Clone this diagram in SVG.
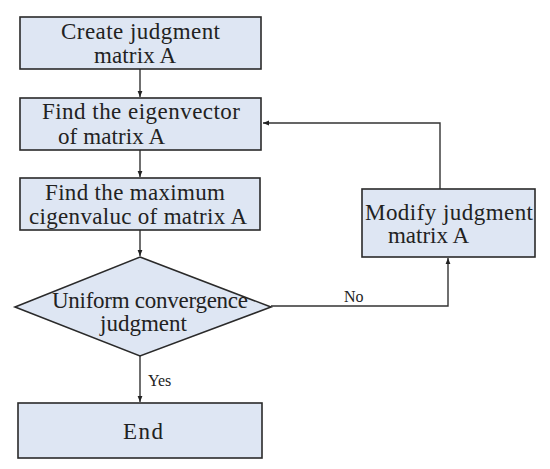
<svg xmlns="http://www.w3.org/2000/svg" width="550" height="469" viewBox="0 0 550 469">
<defs>
<style>
.box{fill:#dee6f3;stroke:#2a2a2a;stroke-width:1.6}
.t{font-family:"Liberation Serif","Times New Roman",serif;font-size:23px;fill:#222}
.s{font-family:"Liberation Serif","Times New Roman",serif;font-size:16px;fill:#222}
.c{fill:none;stroke:#333;stroke-width:1.4}
</style>
<marker id="ah" viewBox="0 0 10 10" refX="10" refY="5" markerWidth="6" markerHeight="6" orient="auto" markerUnits="userSpaceOnUse">
<path d="M0,1 L10,5 L0,9 Z" fill="#222"/>
</marker>
</defs>
<rect width="550" height="469" fill="#fff"/>
<g id="connectors">
<line class="c" x1="140" y1="69" x2="140" y2="97" marker-end="url(#ah)"/>
<line class="c" x1="140" y1="150" x2="140" y2="177" marker-end="url(#ah)"/>
<line class="c" x1="140" y1="230" x2="140" y2="256" marker-end="url(#ah)"/>
<line class="c" x1="140" y1="356" x2="140" y2="402" marker-end="url(#ah)"/>
<polyline class="c" points="271,306 448,306 448,258" marker-end="url(#ah)"/>
<polyline class="c" points="440,189 440,123 263,123" marker-end="url(#ah)"/>
<text class="s" x="148" y="386">Yes</text>
<text class="s" x="344" y="302">No</text>
</g>
<g id="create">
<rect class="box" x="20" y="17" width="241" height="52"/>
<text class="t" x="61" y="39" textLength="159">Create judgment</text>
<text class="t" x="94" y="63" textLength="82">matrix A</text>
</g>
<g id="eigenvector">
<rect class="box" x="20" y="98" width="241" height="52"/>
<text class="t" x="42" y="119" textLength="198">Find the eigenvector</text>
<text class="t" x="58" y="144" textLength="107">of matrix A</text>
</g>
<g id="eigenvalue">
<rect class="box" x="20" y="178" width="240" height="52"/>
<text class="t" x="45" y="200" textLength="180">Find the maximum</text>
<text class="t" x="29" y="224" textLength="218">cigenvaluc of matrix A</text>
</g>
<g id="decision">
<polygon class="box" points="140,257 271,307 140,356 15,307"/>
<text class="t" x="52" y="308" textLength="196">Uniform convergence</text>
<text class="t" x="100" y="331" textLength="87">judgment</text>
</g>
<g id="end">
<rect class="box" x="18" y="403" width="244" height="55"/>
<text class="t" x="123" y="439" textLength="40">End</text>
</g>
<g id="modify">
<rect class="box" x="362" y="189" width="173" height="68"/>
<text class="t" x="365" y="220" textLength="168">Modify judgment</text>
<text class="t" x="388" y="243" textLength="81">matrix A</text>
</g>
</svg>
